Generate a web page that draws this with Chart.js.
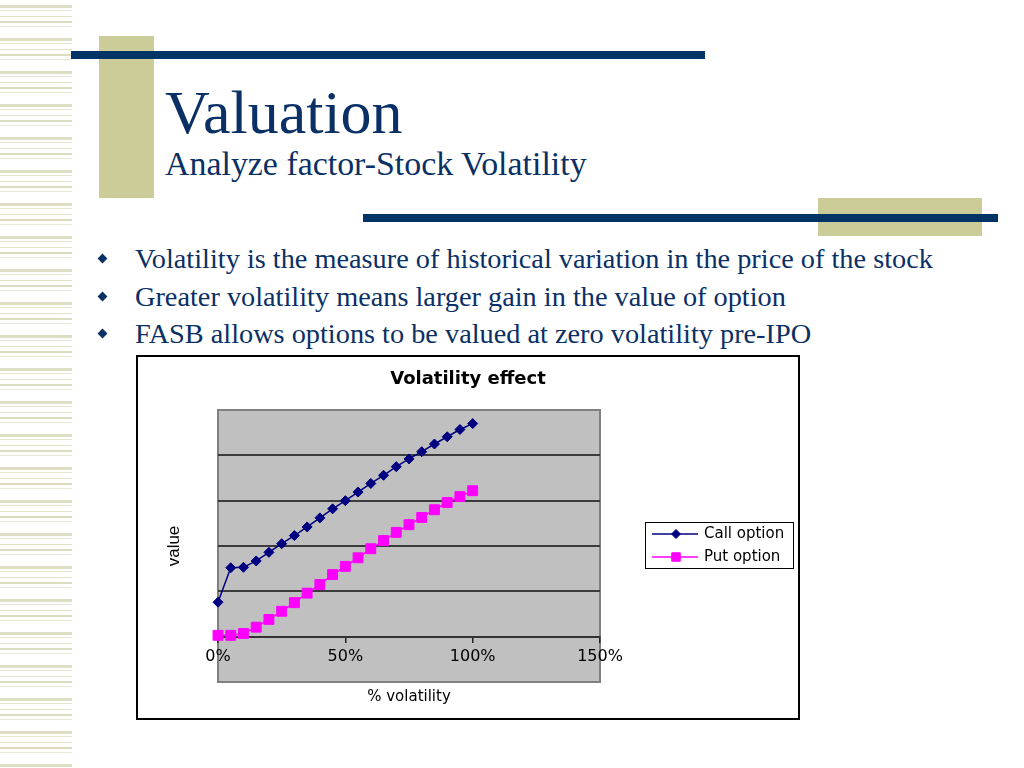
<!DOCTYPE html>
<html>
<head>
<meta charset="utf-8">
<script src="https://cdn.jsdelivr.net/npm/chart.js@4/dist/chart.umd.min.js"></script>
<style>
    html, body {
        margin: 0;
        padding: 0;
        width: 1024px;
        height: 768px;
        overflow: hidden;
        background: #fff;
    }
    .abs { position: absolute; }
    .stripes {
        left: 0; top: 0; width: 72px; height: 768px;
        background: repeating-linear-gradient(to bottom,
            #fff 0 5px, #dedec4 5px 8px, #fff 8px 10px, #e6e6d2 10px 11px,
            #fff 11px 16px, #e3e3cb 16px 17px, #fff 17px 21px, #dcdcc0 21px 23px,
            #fff 23px 26px, #e8e8d6 26px 27px, #fff 27px 33px);
    }
    .navy { background: #003366; }
    .beige { background: #cccc99; }
    .serif {
        font-family: "Liberation Serif", "Times New Roman", serif;
        color: #0a3065;
        line-height: 1;
        white-space: nowrap;
    }
    .bullet {
        width: 7px; height: 7px;
        background: #0a3065;
        transform: rotate(45deg);
    }
    #chartBox {
        left: 136px; top: 355px;
        width: 664px; height: 365px;
        box-sizing: border-box;
        border: 2px solid #000;
        background: #fff;
    }
    #chartBox canvas { display: block; }
</style>
</head>
<body>
<div class="abs stripes"></div>
<div class="abs beige" style="left:99px;top:36px;width:55px;height:162px;"></div>
<div class="abs navy" style="left:71px;top:51px;width:634px;height:8px;"></div>
<div class="abs serif" style="left:165px;top:81px;font-size:62px;">Valuation</div>
<div class="abs serif" style="left:165px;top:147px;font-size:33.9px;">Analyze factor-Stock Volatility</div>
<div class="abs beige" style="left:818px;top:198px;width:164px;height:38px;"></div>
<div class="abs navy" style="left:363px;top:214px;width:635px;height:8px;"></div>

<div class="abs bullet" style="left:99px;top:255px;"></div>
<div class="abs serif" style="left:135px;top:245px;font-size:28.3px;">Volatility is the measure of historical variation in the price of the stock</div>
<div class="abs bullet" style="left:99px;top:293px;"></div>
<div class="abs serif" style="left:135px;top:283px;font-size:28.3px;">Greater volatility means larger gain in the value of option</div>
<div class="abs bullet" style="left:99px;top:330px;"></div>
<div class="abs serif" style="left:135px;top:320px;font-size:28.3px;">FASB allows options to be valued at zero volatility pre-IPO</div>

<div class="abs" id="chartBox"><canvas id="volChart" width="660" height="361"></canvas></div>

<script>
const volatility = [0, 5, 10, 15, 20, 25, 30, 35, 40, 45, 50, 55, 60, 65, 70, 75, 80, 85, 90, 95, 100];
const callValues = [0.76, 1.52, 1.53, 1.67, 1.86, 2.05, 2.23, 2.42, 2.62, 2.82, 3.0, 3.19, 3.38, 3.56, 3.75, 3.92, 4.08, 4.25, 4.41, 4.57, 4.7];
const putValues = [0.03, 0.03, 0.07, 0.21, 0.38, 0.56, 0.75, 0.96, 1.15, 1.37, 1.55, 1.74, 1.94, 2.12, 2.3, 2.47, 2.63, 2.8, 2.96, 3.09, 3.22];
const seriesNames = ["Call option", "Put option"];
const xTickLabels = ["0%", "50%", "100%", "150%"];

const chartFont = "'DejaVu Sans', sans-serif";

// grey plot area with its frame, like the old spreadsheet charts
const plotArea = {
    id: "plotArea",
    beforeDraw(chart) {
        const { ctx, chartArea } = chart;
        ctx.save();
        ctx.fillStyle = "#c0c0c0";
        ctx.fillRect(chartArea.left, chartArea.top, chartArea.width, chartArea.height);
        ctx.strokeStyle = "#808080";
        ctx.lineWidth = 2;
        ctx.strokeRect(chartArea.left, chartArea.top, chartArea.width, chartArea.height);
        ctx.restore();
    },
};

// boxed legend with line + marker samples
const boxedLegend = {
    id: "boxedLegend",
    afterDraw(chart) {
        const { ctx, chartArea } = chart;
        const left = chartArea.right + 45;
        const top = chartArea.top + 112;
        ctx.save();
        ctx.strokeStyle = "#000";
        ctx.lineWidth = 1;
        ctx.strokeRect(left + 0.5, top + 0.5, 148, 46);
        chart.data.datasets.forEach((ds, i) => {
            const y = top + 12 + i * 23;
            ctx.strokeStyle = ds.borderColor;
            ctx.lineWidth = 1.5;
            ctx.beginPath();
            ctx.moveTo(left + 7, y);
            ctx.lineTo(left + 53, y);
            ctx.stroke();
            ctx.fillStyle = ds.backgroundColor;
            ctx.lineWidth = 1;
            Chart.helpers.drawPoint(ctx, {
                pointStyle: ds.pointStyle,
                radius: i === 0 ? 4.5 : 6,
                rotation: 0,
                borderWidth: 1,
            }, left + 31, y);
            ctx.fillStyle = "#000";
            ctx.font = "15px " + chartFont;
            ctx.textBaseline = "middle";
            ctx.textAlign = "left";
            ctx.fillText(ds.label, left + 59, y);
        });
        ctx.restore();
    },
};

new Chart(document.getElementById("volChart"), {
    type: "line",
    data: {
        datasets: [
            {
                label: seriesNames[0],
                data: volatility.map((v, i) => ({ x: v, y: callValues[i] })),
                borderColor: "#000080",
                backgroundColor: "#000080",
                borderWidth: 1.5,
                pointStyle: "rectRot",
                pointRadius: 5,
                pointBorderWidth: 1,
                tension: 0,
                clip: false,
            },
            {
                label: seriesNames[1],
                data: volatility.map((v, i) => ({ x: v, y: putValues[i] })),
                borderColor: "#ff00ff",
                backgroundColor: "#ff00ff",
                borderWidth: 1.5,
                pointStyle: "rect",
                pointRadius: 7,
                pointBorderWidth: 1,
                tension: 0,
                clip: false,
            },
        ],
    },
    options: {
        responsive: false,
        animation: false,
        layout: { padding: { left: 0, right: 0, top: 0, bottom: 36 } },
        plugins: {
            legend: { display: false },
            tooltip: { enabled: false },
            title: {
                display: true,
                text: "Volatility effect",
                color: "#000",
                font: { family: chartFont, size: 18, weight: "bold" },
                padding: { top: 11.2, bottom: 20.2 },
            },
        },
        scales: {
            x: {
                type: "linear",
                min: 0,
                max: 150,
                position: { y: 0 },
                ticks: {
                    stepSize: 50,
                    autoSkip: false,
                    maxRotation: 0,
                    padding: 6,
                    color: "#000",
                    font: { family: chartFont, size: 16 },
                    callback: (value, index) => xTickLabels[index],
                },
                grid: {
                    drawOnChartArea: false,
                    tickLength: 5,
                    color: "#222",
                    lineWidth: 1.5,
                },
                border: { display: true, color: "#333", width: 2 },
                title: {
                    display: true,
                    text: "% volatility",
                    color: "#000",
                    font: { family: chartFont, size: 15 },
                    padding: { top: 14.8, bottom: 0 },
                },
            },
            y: {
                min: -1,
                max: 5,
                ticks: { stepSize: 1, display: false },
                grid: {
                    drawTicks: false,
                    lineWidth: 2,
                    color: (ctx) => {
                        const v = ctx.tick ? ctx.tick.value : null;
                        return v === -1 || v === 0 || v === 5 ? "rgba(0,0,0,0)" : "#3c3c3c";
                    },
                },
                border: { display: false },
                title: {
                    display: true,
                    text: "value",
                    color: "#000",
                    font: { family: "'Liberation Sans Narrow', 'Liberation Sans', sans-serif", size: 17 },
                    padding: { top: 25.8, bottom: 33.8 },
                },
            },
            legendSpace: {
                position: "right",
                display: true,
                ticks: { display: false },
                grid: { display: false },
                border: { display: false },
                afterFit(scale) {
                    scale.width = 198;
                },
            },
        },
    },
    plugins: [plotArea, boxedLegend],
});
</script>
</body>
</html>
